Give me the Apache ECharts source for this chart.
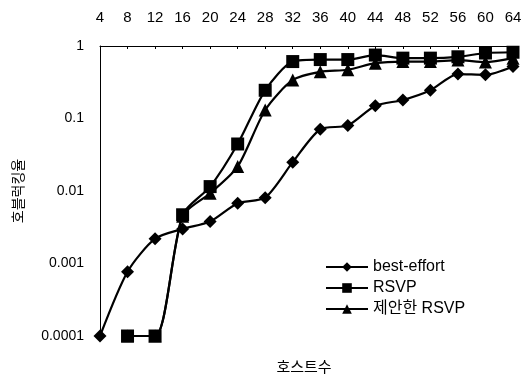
<!DOCTYPE html>
<html>
<head>
<meta charset="utf-8">
<script src="https://cdn.jsdelivr.net/npm/echarts@6/dist/echarts.min.js"></script>
<style>html,body{margin:0;padding:0;background:#fff}#c{width:526px;height:378px}</style>
</head>
<body>
<div id="c"></div>
<script>
const categories = ['4','8','12','16','20','24','28','32','36','40','44','48','52','56','60','64'];
const yTicks = ['0.0001','0.001','0.01','0.1','1'];
const bestEffort = [0.0001,0.00077,0.0022,0.003,0.0038,0.0068,0.0081,0.025,0.071,0.08,0.15,0.18,0.245,0.41,0.40,0.52];
const rsvp = [null,0.0001,0.0001,0.0047,0.0115,0.0445,0.245,0.61,0.65,0.65,0.75,0.68,0.68,0.71,0.8,0.82];
const proposedRsvp = [null,0.0001,0.0001,0.0045,0.0093,0.0217,0.131,0.34,0.44,0.47,0.58,0.61,0.61,0.64,0.6,0.68];
const seriesNames = ['best-effort','RSVP','제안한 RSVP'];
const xName = '호스트수';
const yName = '호블럭킹율';

const font = '"Liberation Sans", Arial, "Noto Sans CJK KR", sans-serif';
const chart = echarts.init(document.getElementById('c'), null, {renderer:'canvas'});
const lineStyle = {color:'#000', width:2.2};
function mk(name, data, symbol, size){
  return {name, type:'line', data, symbol, symbolSize:size, smooth:0.25, connectNulls:false,
    itemStyle:{color:'#000'}, lineStyle, showSymbol:true, z: 3};
}
chart.setOption({
  animation:false,
  backgroundColor:'#fff',
  grid:{left:100, right:13, top:46, bottom:42},
  xAxis:{type:'category', position:'top', data:categories, boundaryGap:false,
    axisLine:{show:true, lineStyle:{color:'#000', width:1}},
    axisTick:{show:true, inside:true, length:3, alignWithLabel:true, lineStyle:{color:'#000'}},
    axisLabel:{color:'#000', fontSize:15, fontFamily:font, margin:21, interval:0},
    splitLine:{show:false}},
  yAxis:{type:'log', logBase:10, min:0.0001, max:1,
    name:yName, nameLocation:'middle', nameRotate:90, nameGap:74,
    nameTextStyle:{color:'#000', fontSize:14, fontFamily:font},
    axisLine:{show:true, lineStyle:{color:'#000', width:1}},
    axisTick:{show:false},
    axisLabel:{color:'#000', fontSize:14, fontFamily:font, margin:16,
      formatter:function(v){ const e=Math.round(Math.log10(v)); return yTicks[e+4]; }},
    splitLine:{show:false}},
  legend:{orient:'vertical', left:320, top:254, itemWidth:42, itemHeight:12, itemGap:5,
    textStyle:{color:'#000', fontSize:16, fontFamily:font}, data:seriesNames},
  graphic:[{type:'text', x:304, y:368, style:{text:xName, fill:'#000', font:'15px '+font, textAlign:'center', textVerticalAlign:'middle'}}],
  series:[
    mk(seriesNames[0], bestEffort, 'diamond', 13),
    mk(seriesNames[1], rsvp, 'rect', 13),
    mk(seriesNames[2], proposedRsvp, 'triangle', 13)
  ]
});
</script>
</body>
</html>
